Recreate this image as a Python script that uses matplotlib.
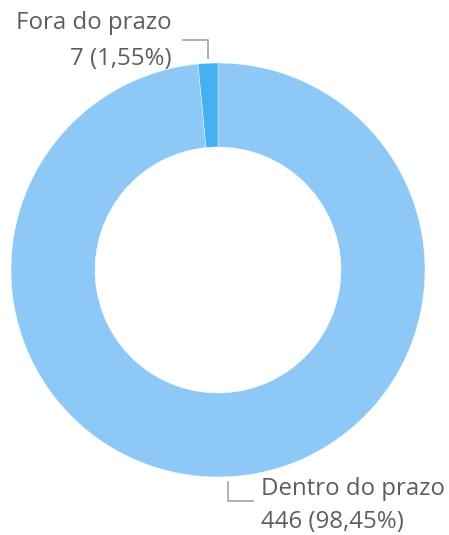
import numpy as np
import matplotlib.pyplot as plt

labels = ["Dentro do prazo", "Fora do prazo"]
values = [446, 7]
colors = ["#8DC8F7", "#45B1F0"]

W, H = 449, 535
fig = plt.figure(figsize=(W / 100, H / 100), dpi=100)
ax = fig.add_axes([0, 0, 1, 1])

cx, cy, r = 218, H - 270, 207
wedges, _ = ax.pie(values, colors=colors, startangle=90, counterclock=False,
                   center=(cx, cy), radius=r, frame=True,
                   wedgeprops=dict(width=84, edgecolor="white", linewidth=0.3))
ax.set_xlim(0, W)
ax.set_ylim(0, H)
ax.set_aspect("equal")
ax.axis("off")

total = sum(values)
txt_color = "#605E5C"
line_color = "#AAAAAA"
fs = 17.3

for w, lab, v in zip(wedges, labels, values):
    mid = np.deg2rad((w.theta1 + w.theta2) / 2)
    x0 = cx + (r + 5) * np.cos(mid)
    y0 = cy + (r + 5) * np.sin(mid)
    pct = f"{v / total * 100:.2f}".replace(".", ",")
    if np.sin(mid) > 0:
        y1 = y0 + 18
        x1 = x0 - 25
        ax.plot([x0, x0, x1], [y0, y1, y1], color=line_color, lw=1.3)
        ax.text(x1 - 11, y1 + 17, lab, ha="right", va="center", fontsize=fs,
                color=txt_color, family="Open Sans")
        ax.text(x1 - 11, y1 - 19, f"{v} ({pct}%)", ha="right", va="center",
                fontsize=fs, color=txt_color, family="Open Sans")
    else:
        y1 = y0 - 19
        x1 = x0 + 25
        ax.plot([x0, x0, x1], [y0, y1, y1], color=line_color, lw=1.3)
        ax.text(x1 + 8, y1 + 12, lab, ha="left", va="center", fontsize=fs,
                color=txt_color, family="Open Sans")
        ax.text(x1 + 8, y1 - 21, f"{v} ({pct}%)", ha="left", va="center",
                fontsize=fs, color=txt_color, family="Open Sans")

fig.savefig("out.png", dpi=100)
